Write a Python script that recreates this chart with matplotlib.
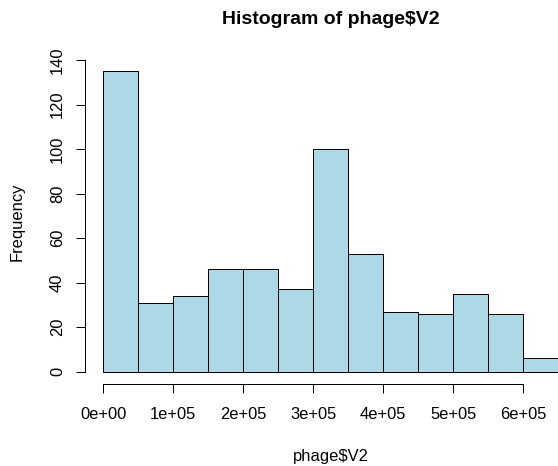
"""R-style base histogram of phage$V2, redrawn with matplotlib."""

import matplotlib

matplotlib.use("Agg")
import matplotlib.pyplot as plt  # noqa: E402
import numpy as np  # noqa: E402

# bin edges (50k wide) and the counts
bin_edges = np.arange(0, 650001, 50000)
counts = [135, 31, 34, 46, 46, 37, 100, 53, 27, 26, 35, 26, 6]
x_ticks = [0, 100000, 200000, 300000, 400000, 500000, 600000]
x_tick_labels = ["0e+00", "1e+05", "2e+05", "3e+05", "4e+05", "5e+05", "6e+05"]
y_ticks = [0, 20, 40, 60, 80, 100, 120, 140]

W, H, DPI = 558, 466, 100
PX = 72 / DPI  # points per pixel
plt.rcParams["font.family"] = ["Liberation Sans", "DejaVu Sans"]

fig = plt.figure(figsize=(W / DPI, H / DPI), dpi=DPI)
# plot region in pixels: x 85.1..576.2, y 59.2..383.7 (from top)
ax = fig.add_axes([85.1 / W, 1 - 383.7 / H, (576.2 - 85.1) / W, (383.7 - 59.2) / H])

ax.bar(bin_edges[:-1], counts, width=np.diff(bin_edges), align="edge",
       color="#ADD8E6", edgecolor="black", linewidth=1 * PX)

# R pads the usr range by 4% on each side
xr = bin_edges[-1] - bin_edges[0]
ax.set_xlim(bin_edges[0] - 0.04 * xr, bin_edges[-1] + 0.04 * xr)
ax.set_ylim(-0.04 * max(counts), max(counts) * 1.04)

for side in ("top", "right"):
    ax.spines[side].set_visible(False)
ax.spines["bottom"].set_bounds(x_ticks[0], x_ticks[-1])
ax.spines["left"].set_bounds(y_ticks[0], y_ticks[-1])
for side in ("bottom", "left"):
    ax.spines[side].set_linewidth(1 * PX)

label_size = 16.5 * PX
ax.set_xticks(x_ticks, x_tick_labels)
ax.set_yticks(y_ticks, [str(v) for v in y_ticks], rotation=90, va="center")
ax.tick_params(axis="both", length=9 * PX, width=1 * PX, labelsize=label_size)
ax.tick_params(axis="x", pad=14 * PX)
ax.tick_params(axis="y", pad=11 * PX)

cx = (85.1 + 576.2) / 2 / W
fig.text(cx, 1 - 19 / H, "Histogram of phage$V2", ha="center", va="center",
         fontsize=19.5 * PX, fontweight="bold")
fig.text(cx, 1 - 456.7 / H, "phage$V2", ha="center", va="center", fontsize=label_size)
fig.text(17.5 / W, 1 - 221.5 / H, "Frequency", ha="center", va="center",
         rotation=90, fontsize=label_size)

fig.savefig("out.png", dpi=DPI)
